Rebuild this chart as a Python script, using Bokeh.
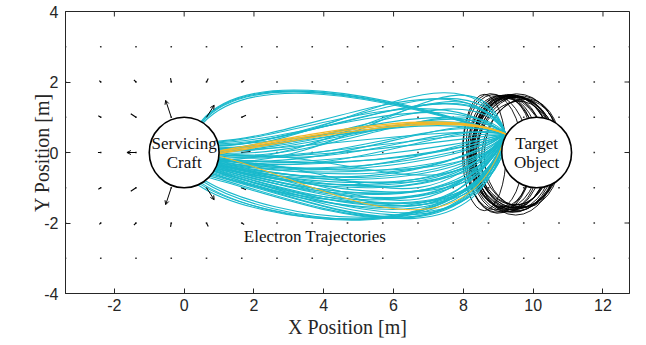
import math
from bokeh.plotting import figure
from bokeh.models import Range1d, FixedTicker, Arrow, OpenHead, ColumnDataSource
from bokeh.core.properties import value
from bokeh.embed import file_html
from bokeh.resources import INLINE

# ---- quiver grid (positions of field samples) ----
grid_x = [-3.40, -2.39, -1.38, -0.37, 0.64, 1.65, 2.66, 3.67, 4.68, 5.69,
          6.70, 7.71, 8.72, 9.73, 10.74, 11.75, 12.76]
grid_y = [-3, -2, -1, 0, 1, 2, 3]

# field vectors large enough to show as arrows (base x, base y, u, v)
arrow_x = [-0.37, 0.64, -0.37, 0.64, -1.38]
arrow_y = [1.0, 1.0, -1.0, -1.0, 0.0]
arrow_u = [-0.16, 0.22, -0.16, 0.22, -0.26]
arrow_v = [0.48, 0.34, -0.48, -0.34, 0.0]

# shorter field vectors (drawn as short strokes)
stroke_x = [-1.38, -1.38, 1.65, 1.65, 1.65, -0.37, 0.64, -1.38, 1.65,
            -0.37, 0.64, -1.38, 1.65, -2.39, -2.39, -2.39, -2.39, -2.39]
stroke_y = [1.0, -1.0, 0.0, 1.0, -1.0, 2.0, 2.0, 2.0, 2.0,
            -2.0, -2.0, -2.0, -2.0, 1.0, 0.0, -1.0, 2.0, -2.0]
stroke_u = [-0.15, -0.15, 0.25, 0.12, 0.12, -0.02, 0.05, -0.06, 0.07,
            -0.02, 0.05, -0.06, 0.07, -0.07, -0.08, -0.07, -0.04, -0.04]
stroke_v = [0.10, -0.10, 0.03, 0.06, -0.06, 0.11, 0.10, 0.06, 0.04,
            -0.11, -0.10, -0.06, -0.04, 0.04, 0.0, -0.04, 0.04, -0.04]

# ---- bodies ----
body_x = [0.0, 10.1]
body_y = [0.0, 0.0]
body_r = [1.0, 1.0]
body_line1 = ["Servicing", "Target"]
body_line2 = ["Craft", "Object"]

# ---- electron trajectories: cubic Bezier (start, control 1, control 2, impact) ----
cyan_x0 = [0.50, 0.52, 0.48, 0.55,
           0.95, 0.95, 0.96, 0.97, 0.98, 0.99, 0.99, 1.00, 1.00, 1.00, 0.99, 0.99, 0.98,
           0.98, 0.97, 0.96, 0.95, 0.94, 0.93, 0.92, 0.90, 0.88, 0.86, 0.84, 0.82, 0.80,
           0.77, 0.74, 0.70,
           0.60, 0.55, 0.50, 0.45, 0.40,
           0.99, 0.98, 0.97, 0.96, 0.95, 0.94, 0.93, 0.91, 0.89, 0.87, 1.00, 0.99, 0.98,
           0.97, 0.93, 0.89, 0.99, 0.85, 0.80,
           0.99, 0.99, 0.97, 0.95, 0.93, 0.91, 0.88, 0.85, 1.00, 0.98, 0.96, 0.94, 0.92,
           0.99, 0.97, 0.99, 0.98, 0.97]
cyan_y0 = [0.87, 0.86, 0.88, 0.84,
           0.30, 0.32, 0.28, 0.25, 0.20, 0.15, 0.12, 0.05, 0.00, -0.05, -0.10, -0.15, -0.18,
           -0.20, -0.25, -0.28, -0.31, -0.34, -0.37, -0.40, -0.44, -0.47, -0.51, -0.54, -0.57,
           -0.60, -0.64, -0.67, -0.71,
           -0.80, -0.83, -0.87, -0.89, -0.92,
           -0.12, -0.18, -0.22, -0.27, -0.30, -0.33, -0.36, -0.41, -0.45, -0.49, 0.02, 0.10,
           0.18, -0.24, -0.38, -0.46, -0.08, -0.52, -0.60,
           -0.05, -0.14, -0.23, -0.32, -0.37, -0.42, -0.48, -0.52, 0.00, -0.19, -0.29, -0.35,
           -0.40, 0.08, 0.22, 0.10, -0.20, -0.25]
cyan_cx0 = [1.8, 1.8, 1.8, 1.9,
            3.5, 3.8, 3.5, 4.0, 3.5, 3.5, 4.0, 3.5, 3.8, 4.0, 4.0, 4.2, 4.5,
            3.5, 3.5, 3.5, 3.5, 3.5, 3.5, 3.5, 4.0, 4.0, 4.0, 4.5, 4.5, 4.5, 4.5, 4.0, 4.0,
            2.5, 2.3, 2.2, 2.2, 2.0,
            4.0, 4.0, 4.0, 4.0, 4.0, 4.0, 4.0, 4.0, 4.0, 4.0, 4.0, 4.0, 4.0,
            5.0, 5.0, 5.5, 5.0, 3.0, 3.0,
            3.0, 3.0, 3.0, 3.0, 3.0, 3.0, 3.0, 3.0, 5.0, 5.0, 5.0, 5.0, 5.0,
            3.0, 3.0, 4.5, 4.5, 5.0]
cyan_cy0 = [2.40, 2.36, 2.44, 2.30,
            0.45, 0.50, 0.35, 0.25, 0.15, 0.05, -0.05, -0.10, -0.25, -0.40, -0.50, -0.70, -0.90,
            -0.60, -0.70, -0.80, -0.90, -1.00, -1.10, -1.20, -1.30, -1.40, -1.50, -1.55, -1.60,
            -1.65, -1.65, -1.60, -1.60,
            -1.90, -1.95, -2.00, -2.00, -2.00,
            -0.20, -0.45, -0.60, -0.75, -0.85, -0.95, -1.05, -1.15, -1.25, -1.35, 0.15, 0.25,
            0.35, -0.30, -0.80, -1.00, 0.10, -1.20, -1.40,
            -0.35, -0.55, -0.75, -0.95, -1.05, -1.20, -1.30, -1.45, -0.60, -1.00, -1.20, -1.40,
            -1.50, 0.00, 0.20, 0.30, -0.30, -0.50]
cyan_cx1 = [5.5, 5.5, 5.6, 5.5,
            7.0, 8.0, 7.4, 8.2, 8.4, 7.4, 8.2, 7.0, 7.6, 8.0, 7.5, 8.0, 7.8,
            8.0, 7.6, 8.2, 7.8, 8.3, 8.0, 8.4, 8.1, 8.5, 8.2, 8.6, 8.3, 8.0, 8.4, 8.2, 7.9,
            8.2, 8.4, 8.0, 8.3, 8.1,
            7.0, 7.3, 8.5, 7.0, 8.6, 7.5, 8.8, 7.6, 8.7, 7.7, 7.2, 6.8, 8.4,
            6.5, 6.8, 7.0, 7.5, 9.0, 9.2,
            7.2, 7.9, 7.4, 8.1, 7.7, 8.4, 7.9, 8.6, 7.0, 7.4, 7.8, 8.2, 8.0,
            7.8, 7.6, 8.0, 7.8, 8.2]
cyan_cy1 = [1.70, 1.68, 1.72, 1.64,
            2.20, 2.80, 2.00, 2.60, 3.00, 1.80, 2.40, 1.50, 1.80, 2.00, 1.20, 1.40, 1.00,
            0.00, -0.30, -0.60, -1.00, -1.30, -1.60, -1.90, -2.20, -2.50, -2.80, -3.00, -3.10,
            -3.20, -3.30, -3.30, -3.30,
            -2.90, -3.00, -3.00, -2.90, -2.90,
            0.30, -0.20, -0.80, -0.90, -1.50, -1.70, -2.00, -2.30, -2.60, -2.70, 1.50, 1.20,
            2.60, -2.40, -2.80, -3.00, -1.80, -2.80, -2.40,
            0.60, 0.20, -0.50, -1.10, -1.40, -2.00, -2.30, -2.70, 0.90, 0.20, -0.40, -1.00,
            -1.60, 0.80, 1.30, 3.30, 3.00, 3.50]
cyan_x1 = [9.22] * len(cyan_x0)
cyan_y1 = [0.52] * len(cyan_x0)

orange_x0 = [1.00, 1.00, 1.00, 1.00]
orange_y0 = [0.00, 0.04, -0.04, -0.10]
orange_cx0 = [4.0, 4.0, 4.0, 4.0]
orange_cy0 = [0.55, 0.60, 0.50, -0.90]
orange_cx1 = [7.5, 7.5, 7.6, 8.0]
orange_cy1 = [1.25, 1.30, 1.20, -3.40]
orange_x1 = [9.22, 9.22, 9.22, 9.22]
orange_y1 = [0.52, 0.52, 0.52, 0.52]
orange_w = [1.4, 1.4, 1.4, 1.0]

# orbit loops around the target (centre, full width, full height, tilt in rad)
loop_x = [8.60, 8.85, 9.05, 9.15, 9.25, 9.30, 9.35, 9.40, 9.45, 9.50, 9.55,
          9.60, 9.65, 9.35, 9.45, 9.20, 9.55, 9.70, 9.00, 9.10, 9.50, 9.40]
loop_y = [0.00, 0.02, -0.05, 0.00, -0.05, 0.03, -0.03, 0.00, -0.05, 0.02, -0.04,
          0.00, -0.06, 0.05, -0.08, 0.00, 0.04, -0.02, 0.05, -0.08, -0.10, 0.08]
loop_w = [1.25, 1.70, 1.90, 2.00, 2.10, 2.20, 2.25, 2.30, 2.35, 2.40, 2.35,
          2.30, 2.25, 2.10, 2.20, 1.95, 2.45, 2.20, 1.80, 1.85, 2.30, 2.25]
loop_h = [3.30, 3.30, 3.35, 3.25, 3.30, 3.20, 3.30, 3.25, 3.30, 3.20, 3.30,
          3.15, 3.20, 3.10, 3.10, 3.15, 3.25, 3.05, 3.20, 3.25, 3.35, 3.15]
loop_a = [0.00, 0.05, -0.05, 0.10, -0.08, 0.12, -0.10, 0.06, -0.04, 0.08, -0.12,
          0.15, -0.15, 0.18, -0.18, 0.00, 0.02, -0.05, 0.12, -0.12, 0.00, 0.10]

caption = "Electron Trajectories"
caption_x = 3.75
caption_y = -2.38

x_ticks = [-2, 0, 2, 4, 6, 8, 10, 12]
y_ticks = [-4, -2, 0, 2, 4]
X_MIN, X_MAX, Y_MIN, Y_MAX = -3.40, 12.76, -4, 4

AX = "#262626"
CYAN = "#19b9cc"
ORANGE = "#f4b827"
SERIF = "Liberation Serif"

p = figure(width=646, height=345, x_range=Range1d(X_MIN, X_MAX), y_range=Range1d(Y_MIN, Y_MAX),
           output_backend="svg", toolbar_location=None,
           min_border_left=65, min_border_right=17, min_border_top=11, min_border_bottom=52,
           background_fill_color="white", border_fill_color="white")
p.grid.visible = False
p.outline_line_color = AX
p.outline_line_width = 1

p.xaxis.ticker = FixedTicker(ticks=x_ticks)
p.yaxis.ticker = FixedTicker(ticks=y_ticks)
p.xaxis.major_label_overrides = {t: str(t) for t in x_ticks}
p.yaxis.major_label_overrides = {t: str(t) for t in y_ticks}
p.xaxis.axis_label = "X Position [m]"
p.yaxis.axis_label = "Y Position [m]"
for ax in (p.xaxis[0], p.yaxis[0]):
    ax.axis_line_color = AX
    ax.major_tick_in = 5
    ax.major_tick_out = 0
    ax.major_tick_line_color = AX
    ax.minor_tick_line_color = None
    ax.major_label_text_font = "Liberation Sans"
    ax.major_label_text_font_size = "16px"
    ax.major_label_text_color = AX
    ax.axis_label_text_font = SERIF
    ax.axis_label_text_font_size = "20px"
    ax.axis_label_text_font_style = "normal"
    ax.axis_label_text_color = AX
p.xaxis.major_label_standoff = 5
p.xaxis.axis_label_standoff = 2
p.yaxis.major_label_standoff = 7
p.yaxis.axis_label_standoff = -12

# inward ticks on the top and right edges of the box (half of each dash is clipped)
p.scatter(x=x_ticks, y=[Y_MAX] * len(x_ticks), marker="dash", angle=math.pi / 2,
          size=10, line_color=AX, line_width=1)
p.scatter(x=[X_MAX] * len(y_ticks), y=y_ticks, marker="dash", size=10,
          line_color=AX, line_width=1)

# quiver background: one small mark per grid node
gx = [x for y in grid_y for x in grid_x]
gy = [y for y in grid_y for x in grid_x]
p.scatter(gx, gy, marker="square", size=1.6, color="#333333", line_width=0)

# short field strokes
p.segment(x0=stroke_x, y0=stroke_y,
          x1=[a + b for a, b in zip(stroke_x, stroke_u)],
          y1=[a + b for a, b in zip(stroke_y, stroke_v)],
          line_color="black", line_width=1.1)

# arrows around the servicing craft
arr_src = ColumnDataSource(dict(xs=arrow_x, ys=arrow_y,
                                xe=[a + b for a, b in zip(arrow_x, arrow_u)],
                                ye=[a + b for a, b in zip(arrow_y, arrow_v)]))
p.add_layout(Arrow(source=arr_src, x_start="xs", y_start="ys", x_end="xe", y_end="ye",
                   line_color="black", line_width=1,
                   end=OpenHead(size=4, line_color="black", line_width=1)))

# orbit loops
p.ellipse(loop_x, loop_y, width=loop_w, height=loop_h, angle=loop_a,
          fill_color=None, line_color="black", line_width=0.9)

# trajectories
p.bezier(x0=cyan_x0, y0=cyan_y0, x1=cyan_x1, y1=cyan_y1,
         cx0=cyan_cx0, cy0=cyan_cy0, cx1=cyan_cx1, cy1=cyan_cy1,
         line_color=CYAN, line_width=1.1)
p.bezier(source=ColumnDataSource(dict(x0=orange_x0, y0=orange_y0, x1=orange_x1, y1=orange_y1,
                                      cx0=orange_cx0, cy0=orange_cy0, cx1=orange_cx1,
                                      cy1=orange_cy1, w=orange_w)),
         x0="x0", y0="y0", x1="x1", y1="y1", cx0="cx0", cy0="cy0", cx1="cx1", cy1="cy1",
         line_color=ORANGE, line_width="w")

# spacecraft bodies
p.ellipse(body_x, body_y, width=[2 * r for r in body_r], height=[2 * r for r in body_r],
          fill_color="white", line_color="black", line_width=1.6)

p.text(x=body_x, y=[y + 0.25 for y in body_y], text=body_line1, text_align="center",
       text_baseline="middle", text_font=value(SERIF), text_font_size="17px",
       text_color="#111111")
p.text(x=body_x, y=[y - 0.28 for y in body_y], text=body_line2, text_align="center",
       text_baseline="middle", text_font=value(SERIF), text_font_size="17px",
       text_color="#111111")
p.text(x=[caption_x], y=[caption_y], text=[caption], text_align="center",
       text_baseline="middle", text_font=value(SERIF), text_font_size="17px",
       text_color="#111111")

open("out.html", "w").write(file_html(p, INLINE))
